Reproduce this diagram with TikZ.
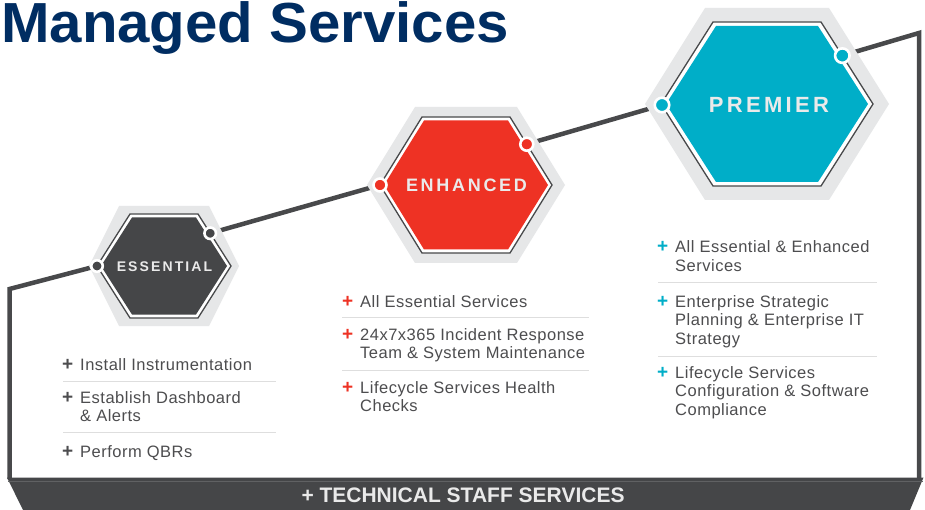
\documentclass[tikz,border=0pt]{standalone}
\usepackage{fontspec}
\setmainfont{Liberation Sans}
\newfontfamily\lblfont{Liberation Sans}[LetterSpace=15]
\newfontfamily\itemfont{Liberation Sans}[LetterSpace=3]
\usetikzlibrary{calc}
\definecolor{framegray}{HTML}{48494B}
\definecolor{hexlight}{HTML}{E6E7E8}
\definecolor{esscol}{HTML}{454648}
\definecolor{enhcol}{HTML}{EE3224}
\definecolor{precol}{HTML}{00AEC8}
\definecolor{txtgray}{HTML}{4D4D4F}
\definecolor{sepgray}{HTML}{DEDEDE}
\definecolor{titlecol}{HTML}{002D62}
\definecolor{lblwhite}{HTML}{EAEAEA}
\definecolor{barline}{HTML}{606163}
% #1 style, #2 cx, #3 cy, #4 half width, #5 half height, #6 half top edge
\newcommand\hexshape[6]{\path[#1] (#2-#4,#3) -- (#2-#6,#3-#5) -- (#2+#6,#3-#5) -- (#2+#4,#3) -- (#2+#6,#3+#5) -- (#2-#6,#3+#5) -- cycle;}
\newcommand\plusmark[1]{\makebox[18pt][l]{\textcolor{#1}{\fontsize{19}{19}\selectfont\bfseries+}}}
\tikzset{
  frame/.style={draw=framegray, line width=4.5pt, line join=miter},
  outerhex/.style={fill=hexlight},
  innerhex/.style={fill=white, draw=framegray, line width=1.3pt},
  dotmark/.style={circle, draw=white, line width=2.6pt, inner sep=0pt, minimum size=#1},
  hexlabel/.style={text=lblwhite, inner sep=0pt},
  item/.style={anchor=base west, inner sep=0pt, text=txtgray, font=\itemfont\fontsize{16.5}{18.7}\selectfont},
  sep/.style={draw=sepgray, line width=1pt}
}
\begin{document}
\begin{tikzpicture}[x=1pt,y=-1pt]
\useasboundingbox (0,0) rectangle (925,510);
\fill[white] (0,0) rectangle (925,510);

% dot coordinates
\coordinate (eL) at (97,266);
\coordinate (eR) at ($(198,214)!0.37!(231,266)$);
\coordinate (nL) at (380,185);
\coordinate (nR) at ($(510,117)!0.40!(552,185)$);
\coordinate (pL) at (662,105);
\coordinate (pR) at ($(821,22)!0.41!(873,104)$);
\coordinate (fL) at (9.5,289);
\coordinate (fLb) at (9.5,479);
\coordinate (fR) at (919,33);
\coordinate (fRb) at (919,479);

% frame line
\draw[frame] (fLb) -- (fL) -- (eL);
\draw[frame] (eR) -- (nL);
\draw[frame] (nR) -- (pL);
\draw[frame] (pR) -- (fR) -- (fRb);

% hexagons
\hexshape{outerhex}{164}{266}{75}{60}{45}
\hexshape{innerhex}{164}{266}{67}{52}{34}
\hexshape{fill=esscol}{164}{266}{63}{48.5}{32}

\hexshape{outerhex}{466}{185}{99}{78}{51}
\hexshape{innerhex}{466}{185}{86}{68}{44}
\hexshape{fill=enhcol}{466}{185}{82}{64.5}{42}

\hexshape{outerhex}{767}{104}{122}{96}{62}
\hexshape{innerhex}{767}{104}{106}{82}{54}
\hexshape{fill=precol}{767}{104}{101}{78}{51}

% dots
\node[dotmark=11.5pt, fill=esscol] (deL) at (eL) {};
\node[dotmark=11.5pt, fill=esscol] (deR) at (eR) {};
\node[dotmark=13pt, fill=enhcol] (dnL) at (nL) {};
\node[dotmark=13pt, fill=enhcol] (dnR) at (nR) {};
\node[dotmark=14.5pt, fill=precol] (dpL) at (pL) {};
\node[dotmark=14.5pt, fill=precol] (dpR) at (pR) {};

% labels
\node[hexlabel, font=\lblfont\bfseries\fontsize{14}{14}\selectfont] (lblE) at (164.5,267) {ESSENTIAL};
\node[hexlabel, font=\lblfont\bfseries\fontsize{18}{18}\selectfont] (lblN) at (466.5,185.5) {ENHANCED};
\node[hexlabel, font=\lblfont\bfseries\fontsize{22}{22}\selectfont] (lblP) at (769,105) {PREMIER};

% title
\node[anchor=base west, inner sep=0pt, text=titlecol, xscale=1.03, font=\bfseries\fontsize{56.5}{58}\selectfont] (title) at (1,43) {Managed Services};

% essential items
\node[item] (e1) at (62,370) {\plusmark{txtgray}\parbox[t]{200pt}{Install Instrumentation}};
\draw[sep] (63,381) -- (276,381);
\node[item] (e2) at (62,403) {\plusmark{txtgray}\parbox[t]{200pt}{Establish Dashboard\\\& Alerts}};
\draw[sep] (63,432) -- (276,432);
\node[item] (e3) at (62,457) {\plusmark{txtgray}\parbox[t]{200pt}{Perform QBRs}};

% enhanced items
\node[item] (n1) at (342,307) {\plusmark{enhcol}\parbox[t]{240pt}{All Essential Services}};
\draw[sep] (342,317) -- (589,317);
\node[item] (n2) at (342,340) {\plusmark{enhcol}\parbox[t]{240pt}{24x7x365 Incident Response\\Team \& System Maintenance}};
\draw[sep] (342,370) -- (589,370);
\node[item] (n3) at (342,393) {\plusmark{enhcol}\parbox[t]{240pt}{Lifecycle Services Health\\Checks}};

% premier items
\node[item] (p1) at (657,253) {\plusmark{precol}\parbox[t]{220pt}{All Essential \& Enhanced\\Services}};
\draw[sep] (658,283) -- (877,283);
\node[item] (p2) at (657,307) {\plusmark{precol}\parbox[t]{220pt}{Enterprise Strategic\\Planning \& Enterprise IT\\Strategy}};
\draw[sep] (658,356) -- (877,356);
\node[item] (p3) at (657,378) {\plusmark{precol}\parbox[t]{220pt}{Lifecycle Services\\Configuration \& Software\\Compliance}};

% bottom bar
\fill[esscol] (7,477.5) -- (923.5,477.5) -- (910,510) -- (23,510) -- cycle;
\draw[barline, line width=0.8pt] (8,481) -- (923,481);
\node[inner sep=0pt, text=lblwhite, font=\bfseries\fontsize{21}{21}\selectfont] (bar) at (463,495) {+ TECHNICAL STAFF SERVICES};
\end{tikzpicture}
\end{document}
